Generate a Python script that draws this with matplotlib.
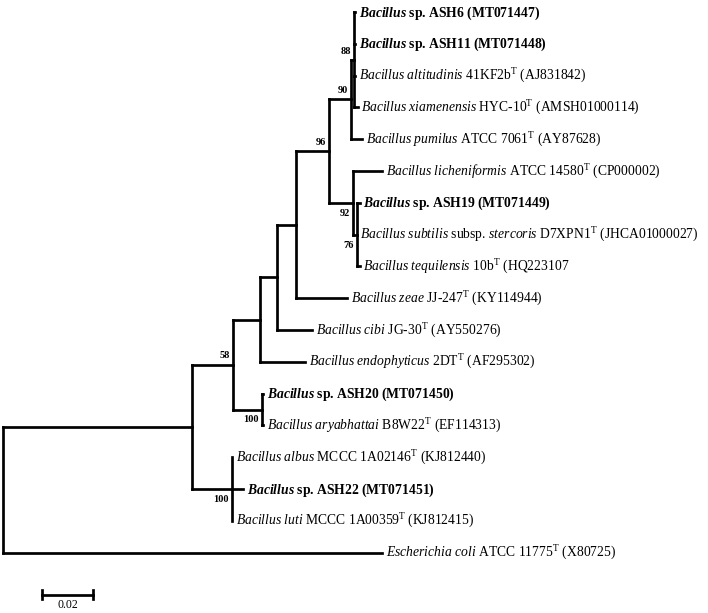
import matplotlib
matplotlib.use("Agg")
import matplotlib.pyplot as plt

plt.rcParams["font.family"] = "Liberation Serif"
plt.rcParams["mathtext.fontset"] = "custom"
plt.rcParams["mathtext.rm"] = "Liberation Serif"
plt.rcParams["mathtext.it"] = "Liberation Serif:italic"
plt.rcParams["mathtext.bf"] = "Liberation Serif:bold"
plt.rcParams["mathtext.bfit"] = "Liberation Serif:italic:bold"

# leaves, top to bottom
leaf_labels = [
    r"$\mathbfit{Bacillus}$ sp. ASH6 (MT071447)",
    r"$\mathbfit{Bacillus}$ sp. ASH11 (MT071448)",
    r"$\mathit{Bacillus\ altitudinis}$ 41KF2b$^{\mathrm{T}}$ (AJ831842)",
    r"$\mathit{Bacillus\ xiamenensis}$ HYC-10$^{\mathrm{T}}$ (AMSH01000114)",
    r"$\mathit{Bacillus\ pumilus}$ ATCC 7061$^{\mathrm{T}}$ (AY87628)",
    r"$\mathit{Bacillus\ licheniformis}$ ATCC 14580$^{\mathrm{T}}$ (CP000002)",
    r"$\mathbfit{Bacillus}$ sp. ASH19 (MT071449)",
    r"$\mathit{Bacillus\ subtilis}$ subsp. $\mathit{stercoris}$ D7XPN1$^{\mathrm{T}}$ (JHCA01000027)",
    r"$\mathit{Bacillus\ tequilensis}$ 10b$^{\mathrm{T}}$ (HQ223107",
    r"$\mathit{Bacillus\ zeae}$ JJ-247$^{\mathrm{T}}$ (KY114944)",
    r"$\mathit{Bacillus\ cibi}$ JG-30$^{\mathrm{T}}$ (AY550276)",
    r"$\mathit{Bacillus\ endophyticus}$ 2DT$^{\mathrm{T}}$ (AF295302)",
    r"$\mathbfit{Bacillus}$ sp. ASH20 (MT071450)",
    r"$\mathit{Bacillus\ aryabhattai}$ B8W22$^{\mathrm{T}}$ (EF114313)",
    r"$\mathit{Bacillus\ albus}$ MCCC 1A02146$^{\mathrm{T}}$ (KJ812440)",
    r"$\mathbfit{Bacillus}$ sp. ASH22 (MT071451)",
    r"$\mathit{Bacillus\ luti}$ MCCC 1A00359$^{\mathrm{T}}$ (KJ812415)",
    r"$\mathit{Escherichia\ coli}$ ATCC 11775$^{\mathrm{T}}$ (X80725)",
]
leaf_bold = [True, True, False, False, False, False, True, False, False,
             False, False, False, True, False, False, True, False, False]
leaf_parent = ["N88", "N88", "N88", "N88", "N90", "N92", "Ng", "Ng", "Ng",
               "NC", "NB", "NA", "N100a", "N100a", "Nalb", "Nalb", "Nalb", "root"]
leaf_length = [0.0002, 0.0002, 0.0002, 0.0012, 0.0044, 0.0115, 0.0012, 0.0, 0.0012,
               0.0202, 0.0139, 0.0178, 0.0004, 0.0004, 0.0, 0.0044, 0.0, 0.1501]

# internal nodes
node_ids = ["root", "N1", "N58", "NA", "NB", "NC", "N96", "N90", "N88",
            "N92", "Ng", "N100a", "Nalb"]
node_parent = [None, "root", "N1", "N58", "NA", "NB", "NC", "N96", "N90",
               "N96", "N92", "N58", "N1"]
node_length = [0.0, 0.0749, 0.0162, 0.0107, 0.0067, 0.0075, 0.0131, 0.0087, 0.0014,
               0.0095, 0.0014, 0.0115, 0.0158]
node_bootstrap = [None, None, 58, None, None, None, 96, 90, 88, 92, 76, 100, 100]

scale_len = 0.02
scale_label = "0.02"

LW = 1.95
PX_PER_UNIT = 2525.0
ROW_PX = 31.8

# ---- layout ----
children = {n: [] for n in node_ids}
pos_x, pos_y = {}, {}

for name, par in zip(node_ids, node_parent):
    if par is not None:
        children[par].append(name)
for i, par in enumerate(leaf_parent):
    children[par].append(i)
    pos_y[i] = float(i)


def node_y(n):
    if n in pos_y:
        return pos_y[n]
    ys = [node_y(c) for c in children[n]]
    pos_y[n] = (min(ys) + max(ys)) / 2
    return pos_y[n]


node_len = dict(zip(node_ids, node_length))
for i, l in enumerate(leaf_length):
    node_len[i] = l


def node_x(n, x0):
    pos_x[n] = x0 + node_len[n]
    if n in children:
        for c in children[n]:
            node_x(c, pos_x[n])


node_y("root")
node_x("root", 0.0)

fig = plt.figure(figsize=(7.08, 6.13), dpi=100)
ax = fig.add_axes([0, 0, 1, 1])
ax.set_xlim(-3 / PX_PER_UNIT, 705 / PX_PER_UNIT)
ax.set_ylim((613 - 12) / ROW_PX, -12 / ROW_PX)
ax.axis("off")

line_kw = dict(color="black", lw=LW, solid_capstyle="projecting")

for n in node_ids:
    ys = [pos_y[c] for c in children[n]]
    ax.plot([pos_x[n], pos_x[n]], [min(ys), max(ys)], **line_kw)
    for c in children[n]:
        ax.plot([pos_x[n], pos_x[c]], [pos_y[c], pos_y[c]], **line_kw)

for i, lab in enumerate(leaf_labels):
    ax.annotate(lab, (pos_x[i], pos_y[i]), xytext=(2.6, -3.2),
                textcoords="offset points", ha="left", va="baseline",
                fontsize=9.8, fontweight="bold" if leaf_bold[i] else "normal")

# bootstrap values: above the branch for upper child, below for lower child
for n, par, bs in zip(node_ids, node_parent, node_bootstrap):
    if bs is None:
        continue
    sib_y = [pos_y[c] for c in children[par]]
    dy = 6.2 if pos_y[n] == min(sib_y) else -7.5
    ax.annotate(str(bs), (pos_x[n], pos_y[n]), xytext=(-2.2, dy),
                textcoords="offset points", ha="right", va="center",
                fontsize=7.5, fontweight="bold")

# scale bar
sx0 = 0.0155
sy = 18.33
ax.plot([sx0, sx0 + scale_len], [sy, sy], color="black", lw=LW)
for xx in (sx0, sx0 + scale_len):
    ax.plot([xx, xx], [sy - 0.14, sy + 0.14], color="black", lw=LW)
ax.annotate(scale_label, (sx0 + scale_len / 2, sy), xytext=(0, -3),
            textcoords="offset points", ha="center", va="top", fontsize=8.5)

fig.savefig("out.png", dpi=100)
